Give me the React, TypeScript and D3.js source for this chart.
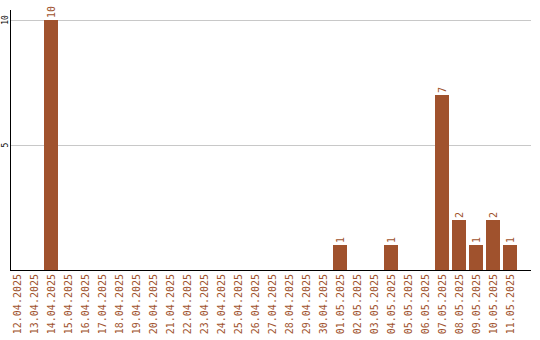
import React from "react";
import * as d3 from "d3";

const dates: string[] = [
  "12.04.2025", "13.04.2025", "14.04.2025", "15.04.2025", "16.04.2025",
  "17.04.2025", "18.04.2025", "19.04.2025", "20.04.2025", "21.04.2025",
  "22.04.2025", "23.04.2025", "24.04.2025", "25.04.2025", "26.04.2025",
  "27.04.2025", "28.04.2025", "29.04.2025", "30.04.2025", "01.05.2025",
  "02.05.2025", "03.05.2025", "04.05.2025", "05.05.2025", "06.05.2025",
  "07.05.2025", "08.05.2025", "09.05.2025", "10.05.2025", "11.05.2025",
];
const counts: number[] = [
  0, 0, 10, 0, 0, 0, 0, 0, 0, 0,
  0, 0, 0, 0, 0, 0, 0, 0, 0, 1,
  0, 0, 1, 0, 0, 7, 2, 1, 2, 1,
];
const yTicks: number[] = [5, 10];

const W = 540;
const H = 340;
const left = 10;
const right = 531;
const top = 10;
const bottom = 270;
const barColor = "#A0522D";
const font = "'DejaVu Sans Mono', monospace";

export default function App() {
  const x = d3
    .scaleBand<string>()
    .domain(dates)
    .range([left, 517])
    .paddingInner(3 / 17)
    .paddingOuter(0)
    .align(0);
  const y = d3.scaleLinear().domain([0, 10]).range([bottom, 20]);

  return (
    <svg
      width={W}
      height={H}
      style={{ position: "absolute", left: 0, top: 0 }}
      textRendering="optimizeSpeed"
    >
      <rect width={W} height={H} fill="#fff" />
      {yTicks.map((t) => (
        <g key={t}>
          <line x1={left} x2={right} y1={y(t)} y2={y(t)} stroke="#c8c8c8" strokeWidth={1} shapeRendering="crispEdges" />
          <text
            transform={`translate(${left - 5},${y(t)}) rotate(-90)`}
            dy="0.35em"
            textAnchor="middle"
            fontFamily={font}
            fontSize={8}
            fill="#000"
          >
            {t}
          </text>
        </g>
      ))}
      {dates.map((d, i) => {
        const v = counts[i];
        const bx = x(d)!;
        const cx = bx + x.bandwidth() / 2;
        return (
          <g key={d}>
            {v > 0 && (
              <>
                <rect x={bx} y={y(v)} width={x.bandwidth()} height={bottom - y(v)} fill={barColor} shapeRendering="crispEdges" />
                <text
                  transform={`translate(${cx},${y(v) - 2}) rotate(-90)`}
                  dy="0.35em"
                  textAnchor="start"
                  fontFamily={font}
                  fontSize={10}
                  fill={barColor}
                >
                  {v}
                </text>
              </>
            )}
            <text
              transform={`translate(${cx},${bottom + 4}) rotate(-90)`}
              dy="0.35em"
              textAnchor="end"
              fontFamily={font}
              fontSize={10}
              fill={barColor}
            >
              {d}
            </text>
          </g>
        );
      })}
      <line x1={left + 0.5} x2={left + 0.5} y1={top} y2={bottom} stroke="#000" strokeWidth={1} />
      <line x1={left} x2={right} y1={bottom + 0.5} y2={bottom + 0.5} stroke="#000" strokeWidth={1} />
    </svg>
  );
}
